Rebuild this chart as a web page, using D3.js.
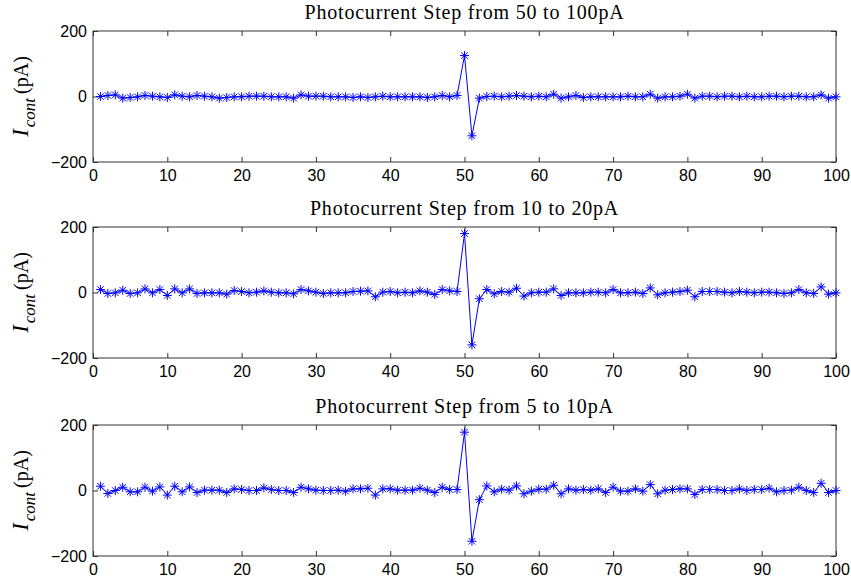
<!DOCTYPE html>
<html>
<head>
<meta charset="utf-8">
<script src="https://cdn.jsdelivr.net/npm/d3@7"></script>
<style>
  body { margin: 0; background: #fff; }
  svg { display: block; }
</style>
</head>
<body>
<div id="chart"></div>
<script>
// Chart data: sample index 1..100, three photocurrent steps
const sampleIdx = d3.range(1, 101)
const titles = [
    'Photocurrent Step from 50 to 100pA',
    'Photocurrent Step from 10 to 20pA',
    'Photocurrent Step from 5 to 10pA'
]
const step50to100 = [
    0, 3, 5, -5, -3, -1, 3, 1, -1, -3, 5, 1, -1, 3, 1, -1, -5, -3, -1, -1,
    1, 1, 1, -1, -1, -1, -5, 5, 1, 1, 1, -1, -1, -1, -3, -1, -3, -1, 1, -1,
    -1, -1, -1, -1, -3, -1, 3, -1, 3, 125,
    -120, -5, 0, 1, -1, 1, 3, 1, -1, 1, -1, 7, -5, -1, 3, -3, -1, -1, -1, -1,
    -1, 1, -1, -1, 7, -5, -1, -1, 1, 7, -5, 1, 1, -1, 1, 1, -1, 1, -1, -1,
    1, 1, -1, 1, 1, -1, -1, 5, -5, -1
]
const step10to20 = [
    9, -3, -1, 7, -3, -1, 11, -1, 9, -9, 11, -1, 11, -3, -1, -1, -1, -5, 6, 3,
    -1, 1, 5, 1, -1, -1, -4, 9, 5, 1, -3, -1, -1, -1, 3, 4, 5, -13, 1, 3,
    -1, 1, -1, 5, 1, -6, 9, 5, 3, 180,
    -160, -19, 9, -4, 3, 1, 13, -11, -1, 1, 1, 11, -9, -1, -1, -1, 1, 1, -1, 9,
    -1, -1, 1, -3, 14, -7, -1, 1, 3, 7, -13, 3, 3, 3, 1, -1, 3, 1, -1, 1,
    1, -1, -3, -1, 9, -1, -3, 17, -5, -1
]
const step5to10 = [
    13, -9, 0, 10, -4, -4, 10, -2, 11, -14, 13, -4, 11, -6, 1, 1, 1, -6, 5, 3,
    0, 0, 8, 3, 0, 0, -6, 10, 5, 1, 0, 0, 1, -2, 5, 5, 7, -14, 5, 5,
    1, 1, 1, 7, 1, -6, 10, 3, 3, 178,
    -155, -28, 14, -4, 4, 1, 14, -10, -2, 4, 4, 16, -10, 5, 1, 3, 1, 5, -6, 10,
    -2, -2, 5, -2, 18, -10, 1, 3, 5, 5, -12, 3, 3, 3, 0, 0, 5, 0, 3, 3,
    7, -4, 0, 1, 10, 0, -6, 22, -6, 0
]
const allSeries = [step50to100, step10to20, step5to10]
const xTicks = d3.range(0, 101, 10)
const yTicks = [-200, 0, 200]

const width = 851
const height = 580
const margin = {left: 93, right: 15}
const panelTops = [31, 227, 425]
const panelH = 131
const blue = '#0000ff'

const svg = d3.select('#chart')
    .append('svg')
    .attr('width', width)
    .attr('height', height)

const x = d3.scaleLinear()
    .domain([0, 100])
    .range([margin.left, width - margin.right])

// asterisk marker like matlab '*'
const r = 4.5
const rd = r * 0.72
const starPath = `M${-r},0L${r},0M0,${-r}L0,${r}M${-rd},${-rd}L${rd},${rd}M${-rd},${rd}L${rd},${-rd}`

allSeries.forEach((vals, i) => {
    const top = panelTops[i]
    const y = d3.scaleLinear()
        .domain([-200, 200])
        .range([top + panelH, top])

    const g = svg.append('g')

    // box
    g.append('rect')
        .attr('x', x(0))
        .attr('y', top)
        .attr('width', x(100) - x(0))
        .attr('height', panelH)
        .attr('fill', 'none')
        .attr('stroke', '#333')
        .attr('stroke-width', 1)

    // x ticks, inward at bottom and top
    const xa = g.append('g')
        .attr('transform', `translate(0,${top + panelH})`)
        .call(d3.axisBottom(x).tickValues(xTicks).tickSizeInner(-5).tickSizeOuter(0).tickPadding(8))
    const xt = g.append('g')
        .attr('transform', `translate(0,${top})`)
        .call(d3.axisTop(x).tickValues(xTicks).tickSizeInner(-5).tickSizeOuter(0).tickFormat(''))

    const ya = g.append('g')
        .attr('transform', `translate(${x(0)},0)`)
        .call(d3.axisLeft(y).tickValues(yTicks).tickSizeInner(-5).tickSizeOuter(0).tickPadding(6)
            .tickFormat(d => d < 0 ? '\u2212' + Math.abs(d) : d))
    const yr = g.append('g')
        .attr('transform', `translate(${x(100)},0)`)
        .call(d3.axisRight(y).tickValues(yTicks).tickSizeInner(-5).tickSizeOuter(0).tickFormat(''))

    ;[xa, xt, ya, yr].forEach(a => {
        a.select('.domain').remove()
        a.selectAll('line').attr('stroke', '#333')
        a.selectAll('text')
            .attr('fill', '#000')
            .style('font-family', '"Liberation Sans", Arial, sans-serif')
            .style('font-size', '16px')
    })

    // title
    g.append('text')
        .attr('x', (x(0) + x(100)) / 2)
        .attr('y', top - 12)
        .attr('text-anchor', 'middle')
        .style('font-family', '"Liberation Serif", "Times New Roman", serif')
        .style('font-size', '20px')
        .style('letter-spacing', '0.8px')
        .text(titles[i])

    // y label
    const lab = g.append('text')
        .attr('transform', `translate(28,${top + panelH / 2}) rotate(-90)`)
        .attr('text-anchor', 'middle')
        .style('font-family', '"Liberation Serif", "Times New Roman", serif')
    lab.append('tspan').style('font-style', 'italic').style('font-size', '23px').text('I')
    lab.append('tspan').style('font-style', 'italic').style('font-size', '17px').attr('dy', 7).attr('dx', 2).text('cont')
    lab.append('tspan').style('font-size', '20px').attr('dy', -7).attr('dx', 4).text('(pA)')

    const pts = sampleIdx.map((s, j) => [s, vals[j]])

    g.append('path')
        .datum(pts)
        .attr('fill', 'none')
        .attr('stroke', blue)
        .attr('stroke-width', 1)
        .attr('d', d3.line().x(d => x(d[0])).y(d => y(d[1])))

    g.selectAll('.mk')
        .data(pts)
        .join('path')
        .attr('class', 'mk')
        .attr('transform', d => `translate(${x(d[0])},${y(d[1])})`)
        .attr('d', starPath)
        .attr('fill', 'none')
        .attr('stroke', blue)
        .attr('stroke-width', 1)
})
</script>
</body>
</html>
